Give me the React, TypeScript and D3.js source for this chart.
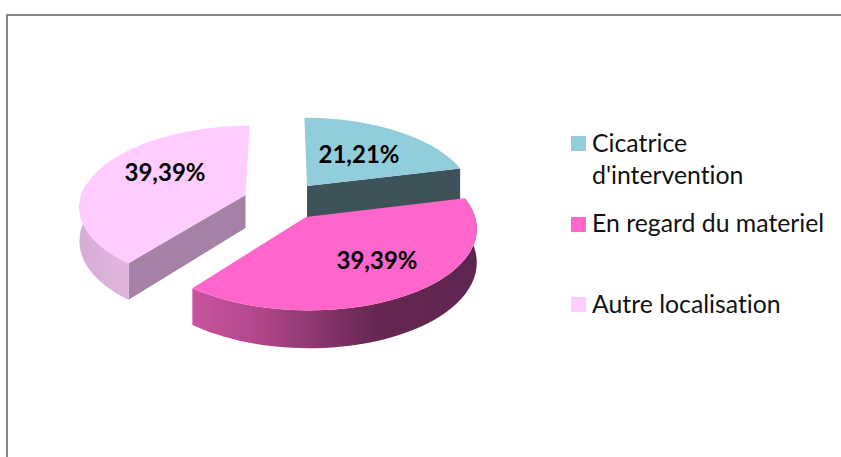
import React from "react";
import * as d3 from "d3";

const categories = ["Cicatrice d'intervention", "En regard du materiel", "Autre localisation"];
const values = [21.21, 39.39, 39.39];
const valueLabels = ["21,21%", "39,39%", "39,39%"];
const legendLines = [["Cicatrice", "d'intervention"], ["En regard du materiel"], ["Autre localisation"]];
const topColors = ["#92CDDC", "#FF66CC", "#FFCCFF"];
const radialWallColors = ["#3E5359", "none", "#A681A6"];

const W = 841, H = 457;
const P = 0.1275, VX = 284, DEPTH = 33;
const layout = [
  { ax: 307, ay: 186, R: 163, V: 77, labelX: 359, labelY: 163, wall: "end", outer: null as null | [number, number] },
  { ax: 306, ay: 217, R: 169, V: 81.5, labelX: 377, labelY: 269, wall: null, outer: [0, 1] as [number, number] },
  { ax: 245.5, ay: 195, R: 164, V: 78, labelX: 165, labelY: 181, wall: "start", outer: [0, 0.42] as [number, number] },
];
const legendLayout = [
  { box: 136, lines: [152, 184] },
  { box: 217, lines: [232] },
  { box: 297, lines: [313] },
];

type L = (typeof layout)[number];
const project = (l: L, a: number, r = 1, drop = 0): [number, number] => {
  const Z = r * Math.cos(a);
  const s = 1 / (1 + P * Z);
  return [VX + (l.ax - VX + l.R * r * Math.sin(a)) * s, l.ay - l.V * Z * s + drop * s];
};
const line = d3.line();

export default function App() {
  const arcs = d3.pie<number>().sort(null)(values);
  const order = [2, 0, 1];
  const textStyle = { fontVariantLigatures: "none" as const };
  return (
    <svg width={W} height={H} style={{ position: "absolute", left: 0, top: 0, background: "#fff" }}>
      <defs>
        <linearGradient id="wall1" gradientUnits="userSpaceOnUse" x1="193" x2="476" y1="0" y2="0">
          <stop offset="0" stopColor="#C9539F" />
          <stop offset="0.25" stopColor="#AE4688" />
          <stop offset="0.52" stopColor="#7C3063" />
          <stop offset="0.65" stopColor="#662750" />
          <stop offset="1" stopColor="#5E2550" />
        </linearGradient>
        <linearGradient id="wall2" gradientUnits="userSpaceOnUse" x1="80" x2="133" y1="0" y2="0">
          <stop offset="0" stopColor="#D6ADD6" />
          <stop offset="1" stopColor="#E2B6E0" />
        </linearGradient>
      </defs>
      <path d="M7 457V15H841" fill="none" stroke="#868686" strokeWidth={2} />
      {order.map((i) => {
        const l = layout[i];
        const { startAngle: a0, endAngle: a1 } = arcs[i];
        const angles = d3.range(0, 61).map((k) => a0 + ((a1 - a0) * k) / 60);
        const top: [number, number][] = [[l.ax, l.ay], ...angles.map((a) => project(l, a))];
        const wa = l.wall === "end" ? a1 : a0;
        const radial: [number, number][] = [
          [l.ax, l.ay],
          project(l, wa),
          project(l, wa, 1, DEPTH),
          [l.ax, l.ay + DEPTH],
        ];
        let outer: [number, number][] | null = null;
        if (l.outer) {
          const sub = d3.range(0, 61).map((k) => a0 + (a1 - a0) * (l.outer![0] + ((l.outer![1] - l.outer![0]) * k) / 60));
          outer = [...sub.map((a) => project(l, a)), ...[...sub].reverse().map((a) => project(l, a, 1, DEPTH))];
        }
        return (
          <g key={categories[i]}>
            {l.wall && <path d={line(radial)! + "Z"} fill={radialWallColors[i]} />}
            {outer && <path d={line(outer)! + "Z"} fill={i === 1 ? "url(#wall1)" : "url(#wall2)"} />}
            <path d={line(top)! + "Z"} fill={topColors[i]} />
          </g>
        );
      })}
      {valueLabels.map((t, i) => (
        <text key={i} x={layout[i].labelX} y={layout[i].labelY} textAnchor="middle" fontFamily="Lato" fontWeight={700} fontSize={24} fill="#000" style={textStyle}>
          {t}
        </text>
      ))}
      {categories.map((c, i) => (
        <g key={c}>
          <rect x={571} y={legendLayout[i].box} width={15} height={15} fill={topColors[i]} />
          {legendLines[i].map((t, j) => (
            <text key={j} x={592} y={legendLayout[i].lines[j]} fontFamily="Lato" fontSize={24.8} fill="#111" style={textStyle}>
              {t}
            </text>
          ))}
        </g>
      ))}
    </svg>
  );
}
